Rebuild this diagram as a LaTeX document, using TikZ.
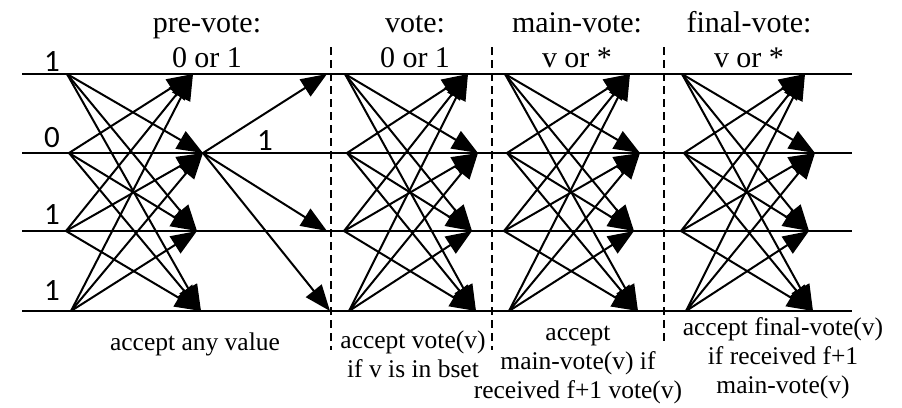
\documentclass[tikz,border=0pt]{standalone}
\usepackage{fontspec}
\setmainfont{Liberation Serif}
\newfontfamily\digitfont{Carlito}
\usetikzlibrary{arrows.meta}

\tikzset{
  wire/.style={line width=1.4pt},
  msg/.style={line width=1pt, -{Triangle[length=13pt,width=10pt]}},
  phase/.style={line width=0.6pt, dash pattern=on 4pt off 2.5pt},
  heading/.style={font=\fontsize{15}{17.5}\selectfont, align=center, anchor=base, inner sep=0pt},
  cond/.style={font=\fontsize{12.75}{14.5}\selectfont, align=center, anchor=base, inner sep=0pt},
  val/.style={font=\digitfont\fontsize{15.5}{16}\selectfont, anchor=base, inner sep=0pt},
}

\begin{document}
\begin{tikzpicture}[x=0.5pt, y=-0.5pt]
  \useasboundingbox (0,0) rectangle (902,408);

  % Define nodes
  \foreach \r/\y/\ds/\dt in {1/74/0/0, 2/153/2/10, 3/231/-1/4, 4/311/4/8} {
    \coordinate (L\r) at (22,\y);
    \coordinate (R\r) at (852,\y);
    \foreach \p/\sx/\tx in {1/67/193, 2/345/468, 3/505/630, 4/682/805} {
      \coordinate (s\p\r) at (\sx+\ds,\y);
      \coordinate (t\p\r) at (\tx+\dt,\y);
    }
  }
  \coordinate (c1) at (327,74);
  \coordinate (c3) at (327,231);
  \coordinate (c4) at (330,311);
  \foreach \d/\x/\yb in {1/331/350, 2/492/350, 3/664/343} {
    \coordinate (d\d top) at (\x,47);
    \coordinate (d\d bot) at (\x,\yb);
  }

  \node[val] (v1) at (52,71) {1};
  \node[val] (v2) at (52,147) {0};
  \node[val] (v3) at (52,224) {1};
  \node[val] (v4) at (52,300) {1};
  \node[val] (vb) at (265,150) {1};

  % baselines below are those of the last line
  \node[heading] (pre) at (207,67) {pre-vote:\\0 or 1};
  \node[heading] (vote) at (415,67) {vote:\\0 or 1};
  \node[heading] (main) at (577,67) {main-vote:\\v or *};
  \node[heading] (final) at (749,67) {final-vote:\\v or *};

  \node[cond] (acc1) at (195,350) {accept any value};
  \node[cond] (acc2) at (413,377) {accept vote(v)\\if v is in bset};
  \node[cond] (acc3) at (578,398) {accept\\main-vote(v) if\\received f+1 vote(v)};
  \node[cond] (acc4) at (783,393) {accept final-vote(v)\\if received f+1\\main-vote(v)};

  % Connect the nodes
  \foreach \r in {1,...,4}
    \draw[wire] (L\r) -- (R\r);
  \foreach \d in {1,2,3}
    \draw[phase] (d\d top) -- (d\d bot);

  \foreach \p in {1,...,4}
    \foreach \i in {1,...,4}
      \foreach \j in {1,...,4} {
        \ifnum\i=\j\relax\else
          \draw[msg] (s\p\i) -- (t\p\j);
        \fi
      }
  \foreach \r in {1,3,4}
    \draw[msg] (t12) -- (c\r);

\end{tikzpicture}
\end{document}
